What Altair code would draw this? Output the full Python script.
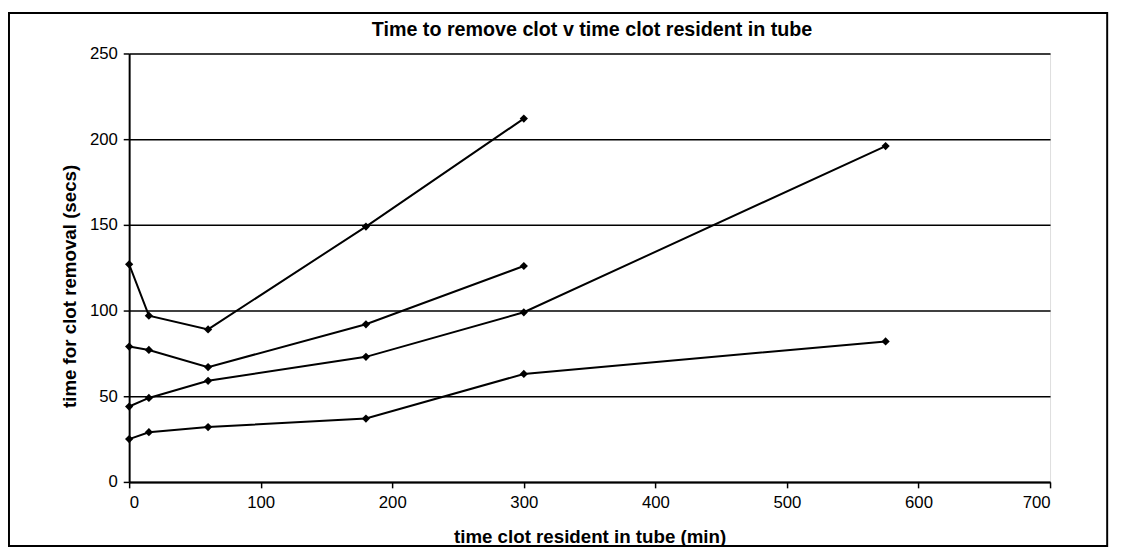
import altair as alt
import pandas as pd

x_vals = [0, 15, 60, 180, 300, 575]
series_names = ["A", "B", "C", "D"]
series_a = [127, 97, 89, 149, 212]
series_b = [79, 77, 67, 92, 126]
series_c = [44, 49, 59, 73, 99, 196]
series_d = [25, 29, 32, 37, 63, 82]
y_ticks = [0, 50, 100, 150, 200, 250]
x_ticks = [0, 100, 200, 300, 400, 500, 600, 700]
title_text = ["Time to remove clot v time clot resident in tube"]

rows = []
for name, vals in zip(series_names, [series_a, series_b, series_c, series_d]):
    for xv, yv in zip(x_vals, vals):
        rows.append({"series": name, "resident": xv, "removal": yv})
df = pd.DataFrame(rows)

FONT = "Liberation Sans"

xenc = alt.X("resident:Q", scale=alt.Scale(domain=[0, 700], nice=False),
             axis=alt.Axis(values=x_ticks, title="time clot resident in tube (min)",
                           grid=False, tickColor="black", domainColor="black",
                           domainWidth=2, tickWidth=1.5,
                           tickSize=6, labelFontSize=17, labelColor="black",
                           labelFont=FONT, titleFont=FONT, titleFontSize=19,
                           titleFontWeight="bold", titleColor="black",
                           labelPadding=7, titlePadding=18))
yenc = alt.Y("removal:Q", scale=alt.Scale(domain=[0, 250], nice=False),
             axis=alt.Axis(values=y_ticks, title="time for clot removal (secs)",
                           grid=True, gridColor="black", gridWidth=1.5,
                           gridOpacity=1, tickColor="black", domainColor="black",
                           domainWidth=2, tickWidth=1.5,
                           tickSize=6, labelFontSize=17, labelColor="black",
                           labelFont=FONT, titleFont=FONT, titleFontSize=19,
                           titleFontWeight="bold", titleColor="black",
                           labelPadding=6, titlePadding=10, titleY=236))
color = alt.Color("series:N", scale=alt.Scale(domain=series_names,
                  range=["black"] * 4), legend=None)

lines = alt.Chart(df).mark_line(strokeWidth=2).encode(
    x=xenc, y=yenc, color=color, order="resident:Q")
points = alt.Chart(df).mark_point(shape="diamond", filled=True, size=70,
                                  opacity=1).encode(
    x=alt.X("resident:Q"), y=alt.Y("removal:Q"), color=color)

frame = alt.Chart(pd.DataFrame({"k": [0]})).mark_rect(
    fill=None, stroke="black", strokeWidth=2, clip=False).encode(
    x=alt.value(-122), x2=alt.value(993), y=alt.value(-41), y2=alt.value(500))

title = alt.Chart(pd.DataFrame({"t": title_text})).mark_text(
    font=FONT, fontSize=20, fontWeight="bold", color="black",
    align="center", baseline="alphabetic").encode(
    text="t:N", x=alt.value(470), y=alt.value(-18))

chart = alt.layer(lines, points, frame, title).properties(
    width=935, height=435,
    autosize=alt.AutoSizeParams(type="none"),
    padding={"left": 123, "top": 42, "right": 70, "bottom": 70},
).configure_view(stroke="black", strokeWidth=2).configure(background="white")

chart.save("out.html", embed_options={"renderer": "svg", "actions": False})
